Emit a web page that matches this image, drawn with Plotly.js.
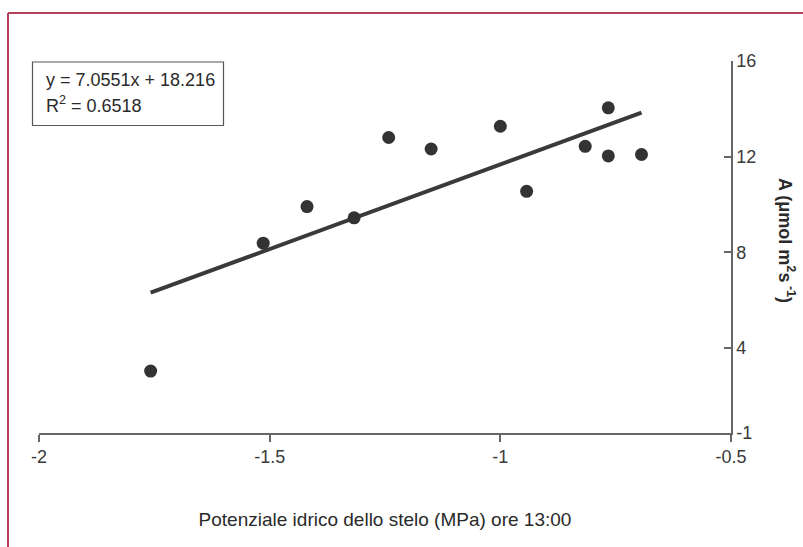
<!DOCTYPE html>
<html>
<head>
<meta charset="utf-8">
<script src="https://cdn.plot.ly/plotly-3.0.1.min.js"></script>
<style>
  html, body { margin: 0; padding: 0; background: #ffffff; }
  #chart { width: 803px; height: 547px; }
</style>
</head>
<body>
<div id="chart"></div>
<script>
// ---- data ----
const stemWaterPotential = [-1.758, -1.514, -1.419, -1.317, -1.242, -1.150, -1.000, -0.943, -0.816, -0.766, -0.766, -0.694];
const assimilation       = [3.03, 8.38, 9.91, 9.44, 12.80, 12.32, 13.27, 10.55, 12.43, 14.04, 12.03, 12.09];

const xTickVals  = [-2, -1.5, -1, -0.5];
const xTickText  = ['-2', '-1.5', '-1', '-0.5'];
const yTickVals  = [0.44, 4, 8, 12, 16];
const yTickText  = ['-1', '4', '8', '12', '16'];

const eqSlope = '7.0551';
const eqIntercept = '18.216';
const eqR2 = '0.6518';

// ---- least-squares trend line from the data ----
function linFit(xs, ys) {
  const n = xs.length;
  const mx = xs.reduce((a, b) => a + b, 0) / n;
  const my = ys.reduce((a, b) => a + b, 0) / n;
  let sxy = 0, sxx = 0;
  for (let i = 0; i < n; i++) { sxy += (xs[i] - mx) * (ys[i] - my); sxx += (xs[i] - mx) ** 2; }
  const m = sxy / sxx;
  return { m: m, b: my - m * mx };
}
const fit = linFit(stemWaterPotential, assimilation);
const xMin = Math.min(...stemWaterPotential), xMax = Math.max(...stemWaterPotential);
const trendX = [xMin, xMax];
const trendY = trendX.map(x => fit.m * x + fit.b);

// ---- layout geometry ----
const W = 803, Hgt = 547;
const M = { l: 39, r: 72, t: 61, b: 114 };
const PW = W - M.l - M.r, PH = Hgt - M.t - M.b;
const px = x => (x - M.l) / PW;
const py = y => 1 - (y - M.t) / PH;

const axisColor = '#666666';
const textColor = '#2a2a2a';
const mainFont = 'Liberation Sans, Arial, Helvetica, sans-serif';
const tickFont = { family: mainFont, size: 18, color: '#3a3a3a' };

const traces = [
  {
    type: 'scatter', mode: 'lines',
    x: trendX, y: trendY,
    line: { color: '#3a3a3a', width: 4 },
    hoverinfo: 'skip', showlegend: false
  },
  {
    type: 'scatter', mode: 'markers',
    x: stemWaterPotential, y: assimilation,
    marker: { color: '#333333', size: 13, line: { width: 0 } },
    showlegend: false
  }
];

const layout = {
  width: W, height: Hgt,
  margin: M,
  paper_bgcolor: '#ffffff', plot_bgcolor: '#ffffff',
  showlegend: false,
  xaxis: {
    range: [-2, -0.5],
    tickvals: xTickVals, ticktext: xTickText,
    showgrid: false, zeroline: false,
    showline: true, linecolor: axisColor, linewidth: 1.5,
    ticks: 'outside', ticklen: 7, tickwidth: 1.5, tickcolor: axisColor,
    tickfont: tickFont,
    title: { text: 'Potenziale idrico dello stelo (MPa) ore 13:00', font: { family: mainFont, size: 19, color: textColor }, standoff: 46 }
  },
  yaxis: {
    range: [0.44, 16],
    side: 'right',
    tickvals: yTickVals, ticktext: yTickText,
    showgrid: false, zeroline: false,
    showline: true, linecolor: axisColor, linewidth: 1.5,
    ticks: 'inside', ticklen: 7, tickwidth: 1.5, tickcolor: axisColor,
    tickfont: tickFont
  },
  shapes: [
    // page frame (top and left edges visible)
    { type: 'line', xref: 'paper', yref: 'paper', x0: px(8), x1: px(810), y0: py(13), y1: py(13), line: { color: '#b5405c', width: 2 } },
    { type: 'line', xref: 'paper', yref: 'paper', x0: px(8), x1: px(8), y0: py(13), y1: py(560), line: { color: '#b5405c', width: 2 } },
    // equation box
    { type: 'rect', xref: 'paper', yref: 'paper', x0: px(32.5), x1: px(223.5), y0: py(62), y1: py(125.5), line: { color: '#555555', width: 1.2 }, fillcolor: 'rgba(0,0,0,0)' }
  ],
  annotations: [
    { xref: 'paper', yref: 'paper', x: px(44), y: py(80), xanchor: 'left', yanchor: 'middle', showarrow: false,
      text: 'y = ' + eqSlope + 'x + ' + eqIntercept, font: { family: mainFont, size: 18, color: textColor } },
    { xref: 'paper', yref: 'paper', x: px(44), y: py(104), xanchor: 'left', yanchor: 'middle', showarrow: false,
      text: 'R<sup>2</sup> = ' + eqR2, font: { family: mainFont, size: 18, color: textColor } },
    { xref: 'paper', yref: 'paper', x: px(787), y: py(240), xanchor: 'center', yanchor: 'middle', showarrow: false, textangle: 90,
      text: 'A (μmol m<sup>2</sup>s<sup> -1</sup>)', font: { family: mainFont, size: 18, color: textColor, weight: 'bold' } }
  ]
};

Plotly.newPlot('chart', traces, layout, { displayModeBar: false });
</script>
</body>
</html>
